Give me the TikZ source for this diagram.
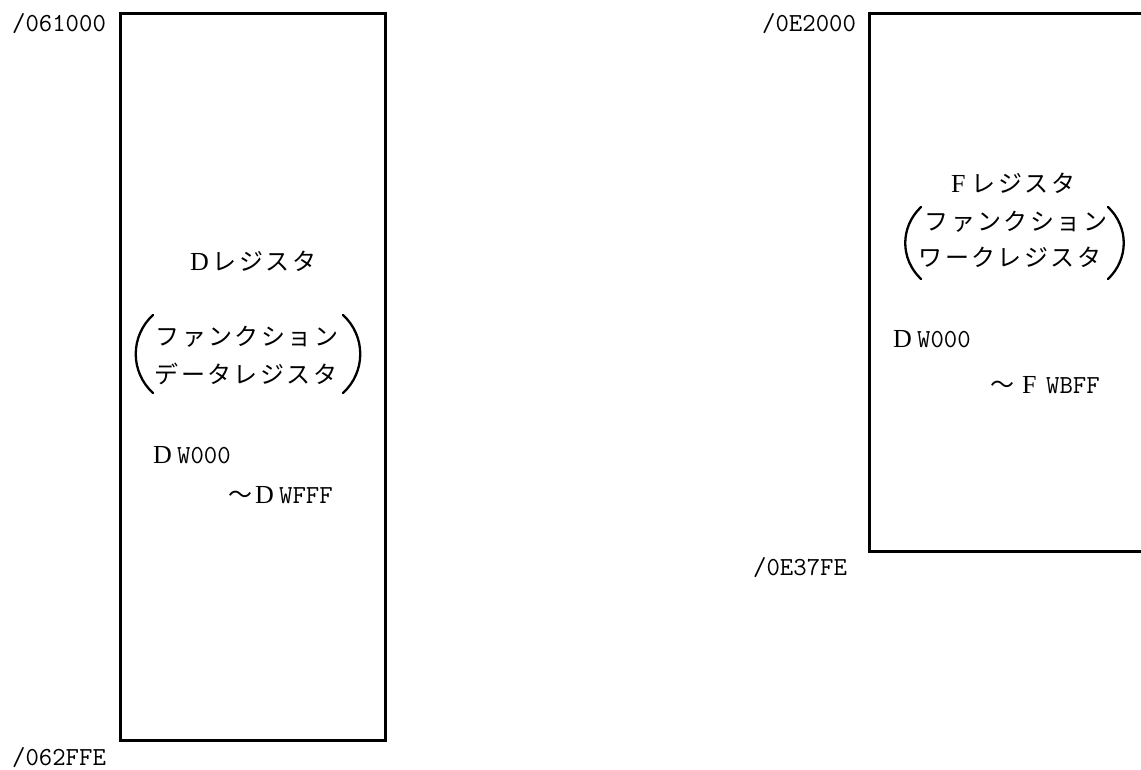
\documentclass[tikz,border=0pt]{standalone}
\usepackage{fontspec}
\setmainfont{Liberation Serif}
\newfontfamily\jpf[LetterSpace=10]{Noto Sans CJK JP}
\newfontfamily\jpplain{Noto Sans CJK JP}
\newfontfamily\serf{Liberation Serif}
\newcommand\FWL[1]{\makebox[24pt][l]{\serf\fontsize{26}{26}\selectfont #1}}
\newcommand\FWC[1]{\makebox[27pt][c]{\serf\fontsize{26}{26}\selectfont #1}}
\newcommand\Til{{\jpplain\fontsize{24}{24}\selectfont ～}}
\begin{document}
\begin{tikzpicture}[x=1pt,y=-1pt,
  regbox/.style={draw, line width=3pt, inner sep=0pt, anchor=north west},
  addr/.style={inner sep=0pt, anchor=base west, font=\ttfamily\fontsize{26}{26}\selectfont},
  kana/.style={inner sep=0pt, anchor=center, font=\jpf\fontsize{24}{24}\selectfont},
  code/.style={inner sep=0pt, anchor=base west, font=\ttfamily\fontsize{26}{26}\selectfont},
  paren/.style={line width=2.3pt, line cap=round}]
\useasboundingbox (0,0) rectangle (1141,769);
\clip (0,0) rectangle (1141,769);
\fill[white] (0,0) rectangle (1141,769);

% left register block
\node[regbox, minimum width=265pt, minimum height=727pt] (dbox) at (119,12) {};
\node[addr] (dtop) at (12,31) {/061000};
\node[addr] (dbot) at (12,765) {/062FFE};
\node[kana] (dname) at (251,261) {\FWC{D}レジスタ};
\node[kana] (dl1) at (247,337) {ファンクション};
\node[kana] (dl2) at (246,374) {データレジスタ};
\draw[paren] (153,315) .. controls (130,336) and (130,372) .. (153,393);
\draw[paren] (343,315) .. controls (366,336) and (366,372) .. (343,393);
\node[code] (dfrom) at (153,463) {\FWL{D}W000};
\node[code] (dto) at (228,503) {\Til\hspace{3pt}\FWL{D}WFFF};

% right register block
\node[regbox, minimum width=300pt, minimum height=538pt] (fbox) at (868,12) {};
\node[addr] (ftop) at (762,31) {/0E2000};
\node[addr] (fbot) at (753,575) {/0E37FE};
\node[kana] (fname) at (1010,183) {\FWC{F}レジスタ};
\node[kana] (fl1) at (1016,222) {ファンクション};
\node[kana] (fl2) at (1010,257) {ワークレジスタ};
\draw[paren] (921,207) .. controls (900,227) and (900,259) .. (921,279);
\draw[paren] (1108,207) .. controls (1129,227) and (1129,259) .. (1108,279);
\node[code] (ffrom) at (893,347) {\FWL{D}W000};
\node[code] (fto) at (990,393) {\Til\hspace{8pt}\FWL{F}WBFF};
\end{tikzpicture}
\end{document}
